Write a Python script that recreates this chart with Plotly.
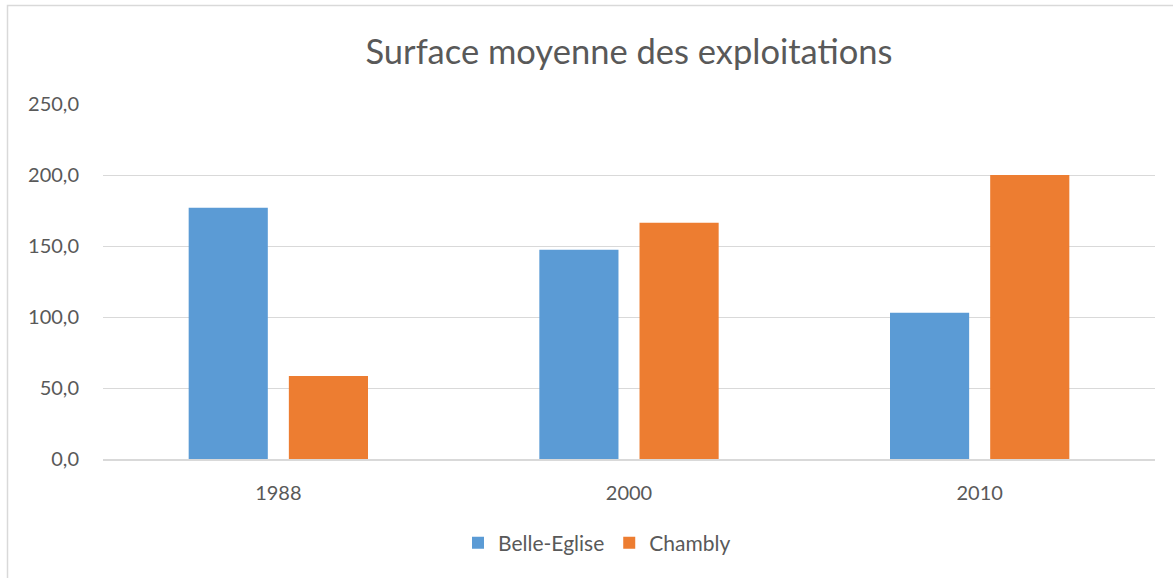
import plotly.graph_objects as go

categories = ["1988", "2000", "2010"]
belle_eglise = [177.0, 147.3, 103.0]
chambly = [58.5, 166.3, 200.0]
y_ticks = [0, 50, 100, 150, 200, 250]
y_tick_labels = ["0,0", "50,0", "100,0", "150,0", "200,0", "250,0"]

W, H = 1173, 578
L, R, T, B = 103, 18, 104, 119
pw, ph = W - L - R, H - T - B

fig = go.Figure()
fig.add_trace(go.Bar(name="Belle-Eglise", x=categories, y=belle_eglise,
                     marker=dict(color="#5B9BD5", line=dict(width=0))))
fig.add_trace(go.Bar(name="Chambly", x=categories, y=chambly,
                     marker=dict(color="#ED7D31", line=dict(width=0))))

font_family = "Lato, 'Open Sans', sans-serif"
fig.update_layout(
    width=W, height=H,
    margin=dict(l=L, r=R, t=T, b=B, pad=0),
    paper_bgcolor="white", plot_bgcolor="white",
    barmode="group", bargap=0.4286, bargroupgap=0.21,
    title=dict(text="Surface moyenne des exploitations", x=0.5, xref="paper",
               xanchor="center", y=1 - 52 / H, yanchor="middle",
               font=dict(family=font_family, size=34.5, color="#595959")),
    showlegend=True,
    legend=dict(orientation="h", x=(597 - L) / pw, xanchor="center",
                y=-(543 - (T + ph)) / ph, yanchor="middle",
                font=dict(family=font_family, size=21, color="#595959"),
                itemwidth=30, traceorder="normal"),
    font=dict(family=font_family, color="#595959"),
)
fig.update_xaxes(showgrid=False, showline=True, linecolor="#D9D9D9", linewidth=1.5,
                 ticks="", tickfont=dict(size=20, color="#595959"), ticklabelstandoff=15)
fig.update_yaxes(range=[0, 250], tickvals=y_ticks, ticktext=y_tick_labels,
                 showgrid=True, gridcolor="#D9D9D9", gridwidth=1.3, zeroline=False,
                 showline=False, ticks="", tickfont=dict(size=20, color="#595959"),
                 ticklabelstandoff=23)

# outer chart border
fig.add_shape(type="rect", xref="paper", yref="paper",
              x0=(7.5 - L) / pw, x1=(W + 10 - L) / pw,
              y0=-(H + 10 - T - ph) / ph, y1=1 + (T - 5.5) / ph,
              line=dict(color="#D9D9D9", width=1.5), fillcolor="rgba(0,0,0,0)", layer="below")

fig.write_html("out.html", config={"displayModeBar": False},
               post_script="document.body.style.margin='0';")
